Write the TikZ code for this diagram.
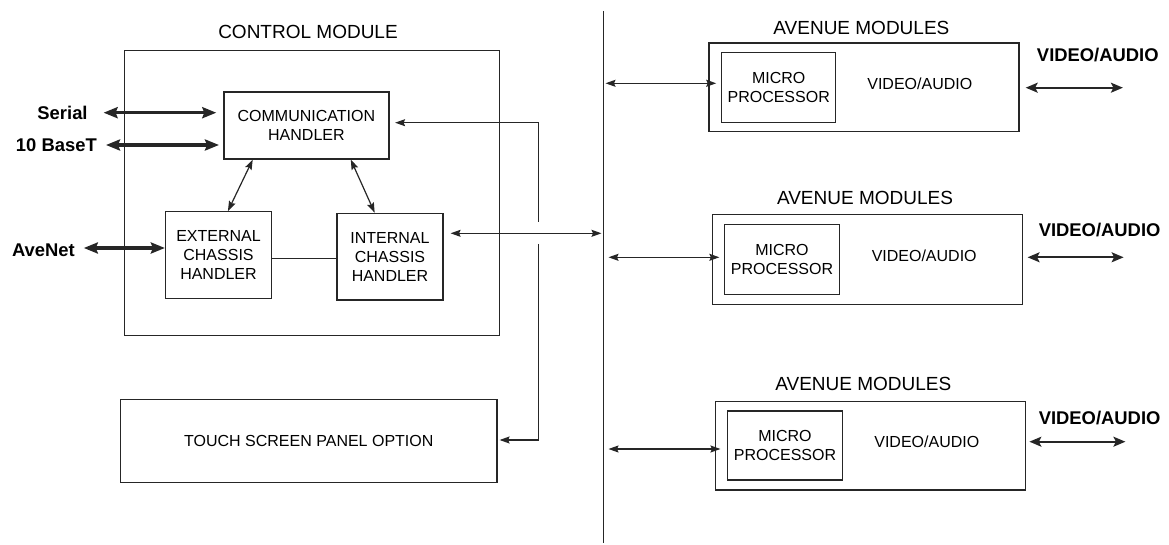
\documentclass[tikz,border=0pt]{standalone}
\usepackage{fontspec}
\setmainfont{Liberation Sans}
\usetikzlibrary{arrows.meta,calc}
\begin{document}
\begin{tikzpicture}[x=1pt,y=-1pt,
  box/.style={draw=black!85,line width=1.2pt,inner sep=0pt,align=center,font=\fontsize{16}{18.8}\selectfont},
  small/.style={inner sep=0pt,align=center,font=\fontsize{16}{18.8}\selectfont},
  title/.style={inner sep=0pt,font=\fontsize{19}{22}\selectfont},
  boldlbl/.style={inner sep=0pt,font=\fontsize{18.4}{21}\selectfont\bfseries},
  thickarr/.style={line width=3.2pt,draw=black!85,{Stealth[length=14pt,width=11pt,inset=2pt]}-{Stealth[length=14pt,width=11pt,inset=2pt]}},
  medarr/.style={line width=1.7pt,draw=black!85,{Stealth[length=12pt,width=10pt,inset=2.5pt]}-{Stealth[length=12pt,width=10pt,inset=2.5pt]}},
  thinarr/.style={line width=1.2pt,draw=black!85,{Stealth[length=10pt,width=7pt,inset=1.5pt]}-{Stealth[length=10pt,width=7pt,inset=1.5pt]}},
  onearr/.style={line width=1.2pt,draw=black!85,-{Stealth[length=10pt,width=7pt,inset=1.5pt]}},
  plain/.style={line width=1.2pt,draw=black!85}]
\useasboundingbox (0,0) rectangle (1169,545);

% Control module
\node[title] (cmt) at (308,32) {CONTROL MODULE};
\node[box,minimum width=375pt,minimum height=285pt] (cm) at (312,193.2) {};
\node[box,minimum width=165pt,minimum height=67pt] (comm) at (306.4,125.5) {COMMUNICATION\\HANDLER};
\node[box,minimum width=106pt,minimum height=86.6pt] (ext) at (218.5,255) {EXTERNAL\\CHASSIS\\HANDLER};
\node[box,minimum width=106pt,minimum height=86.7pt] (int) at (390,256.7) {INTERNAL\\CHASSIS\\HANDLER};
\node[box,minimum width=376.4pt,minimum height=83.4pt] (touch) at (308.8,441) {TOUCH SCREEN PANEL OPTION};

% left labels
\node[boldlbl,anchor=east] (serial) at (87.8,113) {Serial};
\node[boldlbl,anchor=east] (base) at (97,145) {10 BaseT};
\node[boldlbl,anchor=east] (avenet) at (75,250) {AveNet};

\draw[thickarr] ([xshift=15.8pt,yshift=0.3pt]serial.east) -- ([yshift=0.3pt,xshift=-7pt]serial.east -| comm.west);
\draw[thickarr] ([xshift=9pt]base.east) -- ([xshift=-4.3pt]base.east -| comm.west);
\draw[thickarr] ([xshift=8.8pt,yshift=2pt]avenet.east) -- ([yshift=2pt]avenet.east -| ext.west);

% internal connections
\draw[thinarr] ($(comm.south west)!0.177!(comm.south east)$) -- ($(ext.north west)!0.588!(ext.north east)$);
\draw[thinarr] ($(comm.south west)!0.767!(comm.south east)$) -- ($(int.north west)!0.357!(int.north east)$);
\path (ext.east) ++(0,3.3) coordinate (el);
\draw[plain] (el) -- (el -| int.west);

% bus
\coordinate (busTop) at (603.5,11);
\coordinate (busBot) at (603.5,543);
\draw[line width=1.6pt,draw=black!85] (busTop) -- (busBot);

\coordinate (busA) at (603.5,233.3);
\draw[thinarr] ([xshift=7pt]int.east |- busA) -- ([xshift=-2pt]busA);

% link to comm handler and touch panel
\coordinate (jt) at (538.5,122.7);
\coordinate (ja) at (538.5,221.7);
\coordinate (jb) at (538.5,244);
\coordinate (jc) at (538.5,440);
\draw[onearr,shorten >=5.6pt] (ja) -- (jt) -- (jt -| comm.east);
\draw[onearr,shorten >=2pt] (jb) -- (jc) -- (jc -| touch.east);

% Avenue modules
\node[title] (at1) at (861.4,28.3) {AVENUE MODULES};
\node[box,minimum width=310pt,minimum height=88.7pt] (am1) at (864,87.3) {};
\node[box,minimum width=113.8pt,minimum height=70pt] (mp1) at (778.7,87.3) {MICRO\\PROCESSOR};
\node[small] (va1) at (919.8,83.3) {VIDEO/AUDIO};
\node[boldlbl] (vl1) at (1097.8,55) {VIDEO/AUDIO};
\coordinate (b1) at (603.5,83.3);
\draw[thinarr] ([xshift=2pt]b1) -- ([xshift=-5pt]b1 -| mp1.west);
\coordinate (r1) at (1025.7,87.7);
\coordinate (r1e) at (1122.9,87.7);
\draw[medarr] (r1) -- (r1e);

\node[title] (at2) at (865,198.3) {AVENUE MODULES};
\node[box,minimum width=310.6pt,minimum height=89.6pt] (am2) at (867.5,259.5) {};
\node[box,minimum width=114.5pt,minimum height=70pt] (mp2) at (782,259.3) {MICRO\\PROCESSOR};
\node[small] (va2) at (924.2,256) {VIDEO/AUDIO};
\node[boldlbl] (vl2) at (1099.6,230) {VIDEO/AUDIO};
\coordinate (b2) at (603.5,257.3);
\draw[thinarr] ([xshift=5pt]b2) -- ([xshift=-4.8pt]b2 -| mp2.west);
\coordinate (r2) at (1027.6,257.3);
\coordinate (r2e) at (1123.6,257.3);
\draw[medarr] (r2) -- (r2e);

\node[title] (at3) at (863.3,384) {AVENUE MODULES};
\node[box,minimum width=310pt,minimum height=88.3pt] (am3) at (870.6,445.8) {};
\node[box,minimum width=114.5pt,minimum height=69pt] (mp3) at (785,445.5) {MICRO\\PROCESSOR};
\node[small] (va3) at (926.8,441.7) {VIDEO/AUDIO};
\node[boldlbl] (vl3) at (1099.6,418.3) {VIDEO/AUDIO};
\coordinate (b3) at (603.5,449);
\draw[thinarr] ([xshift=5pt]b3) -- ([xshift=-6.7pt]b3 -| mp3.west);
\coordinate (r3) at (1029.4,441.7);
\coordinate (r3e) at (1125.4,441.7);
\draw[medarr] (r3) -- (r3e);
\end{tikzpicture}
\end{document}
